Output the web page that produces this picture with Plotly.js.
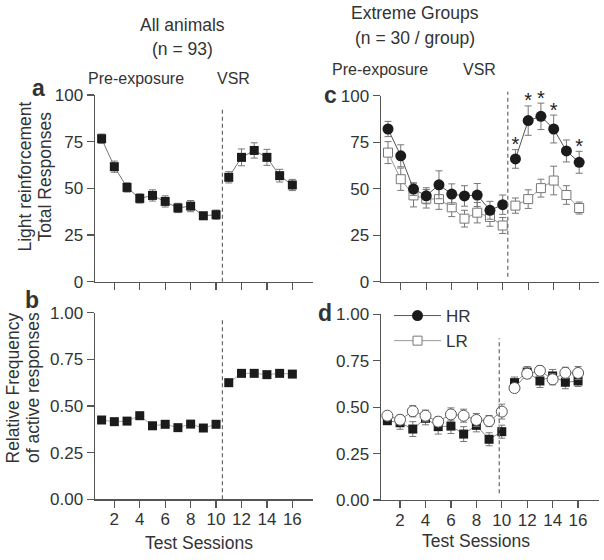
<!DOCTYPE html>
<html>
<head>
<meta charset="utf-8">
<script src="https://cdn.plot.ly/plotly-3.0.1.min.js"></script>
<style>html,body{margin:0;padding:0;background:#fff;}#chart{width:604px;height:560px;}</style>
</head>
<body>
<div id="chart"></div>
<script>
// ---------- data ----------
const sessions = [1,2,3,4,5,6,7,8,9,10,11,12,13,14,15,16];
const xTicks = [2,4,6,8,10,12,14,16];
const yTicksCount = [0,25,50,75,100];
const yTicksFreq = [0,0.25,0.5,0.75,1];

// Panel a: all animals, total responses
const aTotal = [76.6,61.6,50.5,44.6,46.2,43.0,39.5,40.5,35.3,35.9,55.9,66.6,70.3,66.6,56.8,51.8];
const aTotalErr = [2.5,3,2.5,2.5,3,3,2.5,3,2,2.5,3,4.5,4.1,4.3,3.4,3];

// Panel b: all animals, relative frequency of active responses
const bFreq = [0.425,0.416,0.419,0.448,0.394,0.402,0.384,0.403,0.382,0.402,0.625,0.675,0.675,0.668,0.675,0.671];

// Panel c: extreme groups, total responses
const cHR = [82.1,67.7,49.8,46.2,52.1,47.1,46.1,46.6,38.4,41.4,66.0,86.6,88.9,82.1,70.3,64.2];
const cHRerr = [4.1,5.9,3.4,4.3,7.5,5.5,5.5,6.2,4.8,5.2,5.0,7.9,7.1,7.5,5.9,5.9];
const cLR = [69.4,55.1,46.4,44.6,44.4,40.0,33.9,37.1,34.8,30.2,40.9,44.4,50.3,54.4,46.6,39.6];
const cLRerr = [5.9,6.0,6.2,5.0,5.5,5.0,4.5,5.5,5.0,4.3,4.1,5.0,4.8,7.7,5.0,3.2];
const cSig = [0,0,0,0,0,0,0,0,0,0,1,1,1,1,0,1];

// Panel d: extreme groups, relative frequency
const dHR = [0.427,0.416,0.382,0.440,0.395,0.398,0.355,0.402,0.327,0.368,0.632,0.689,0.641,0.668,0.634,0.641];
const dHRerr = [0.02,0.035,0.04,0.035,0.04,0.04,0.04,0.035,0.035,0.035,0.03,0.03,0.035,0.035,0.035,0.03];
const dLR = [0.454,0.432,0.478,0.454,0.422,0.461,0.454,0.431,0.425,0.476,0.603,0.680,0.696,0.650,0.685,0.684];
const dLRerr = [0.02,0.025,0.03,0.03,0.025,0.035,0.035,0.035,0.03,0.04,0.02,0.025,0.025,0.03,0.03,0.035];

const groupNames = ['HR','LR'];

// ---------- helpers ----------
const W = 604, H = 560;
const px = v => v / W;
const py = v => 1 - v / H;
const preIdx = [0,10], vsrIdx = [10,16];
const FONT = 'Liberation Sans, Arial, sans-serif';
const TXT = '#333';

function seg(arr, r){ return arr ? arr.slice(r[0], r[1]) : undefined; }

function series(xa, ya, y, err, marker, lineColor, opts){
  const out = [];
  [preIdx, vsrIdx].forEach((r, k) => {
    const t = {
      type:'scatter', mode:'lines+markers',
      x: seg(sessions, r), y: seg(y, r),
      xaxis: xa, yaxis: ya,
      line:{color: lineColor, width:1},
      marker: marker,
      showlegend: false, hoverinfo:'skip', cliponaxis:false
    };
    if (err) t.error_y = {type:'data', array: seg(err, r), visible:true, color:'#777', thickness:1, width:3.5};
    if (opts && opts.name) t.legendgroup = opts.name;
    if (opts && k === 0 && opts.name){ t.name = opts.name; t.showlegend = true; t.legendrank = opts.rank; }
    out.push(t);
  });
  return out;
}

const filledSq = {symbol:'square', size:9, color:'#1b1b1b', line:{color:'#1b1b1b', width:0}};
const openSq = {symbol:'square', size:9, color:'#fff', line:{color:'#777', width:1}};
const filledCi = {symbol:'circle', size:11, color:'#1b1b1b', line:{color:'#1b1b1b', width:0}};
const openCi = {symbol:'circle', size:11, color:'#fff', line:{color:'#555', width:1}};

let data = [];
data = data.concat(series('x','y', aTotal, aTotalErr, filledSq, '#777'));
data = data.concat(series('x2','y2', bFreq, null, filledSq, '#aaa'));
data = data.concat(series('x3','y3', cLR, cLRerr, openSq, '#999', {name:groupNames[1], rank:2}));
data = data.concat(series('x3','y3', cHR, cHRerr, filledCi, '#555', {name:groupNames[0], rank:1}));
data = data.concat(series('x4','y4', dHR, dHRerr, filledSq, '#888'));
data = data.concat(series('x4','y4', dLR, dLRerr, openCi, '#888'));

// significance asterisks (panel c), just above each HR error bar
const starX = [], starY = [];
sessions.forEach((s,i) => { if (cSig[i]) { starX.push(s); starY.push(cHR[i] + cHRerr[i] + 1.9); } });
data.push({type:'scatter', mode:'text', x: starX, y: starY, text: starX.map(()=>'*'),
  textposition:'middle center', textfont:{family:FONT, size:20, color:'#222'},
  xaxis:'x3', yaxis:'y3', showlegend:false, hoverinfo:'skip', cliponaxis:false});

// ---------- axes ----------
function xAxis(domain, range, anchor, labels){
  return {domain, range, anchor, tickvals: xTicks, ticks:'outside', ticklen:7, tickwidth:1.2,
    tickcolor:'#555', showline:true, linecolor:'#555', linewidth:1.4, showgrid:false, zeroline:false,
    showticklabels: labels, ticklabelstandoff:-3, tickfont:{family:FONT, size:17, color:TXT}, fixedrange:true};
}
function yAxis(domain, range, anchor, vals, fmt){
  return {domain, range, anchor, tickvals: vals, tickformat: fmt, ticks:'outside', ticklen:7, tickwidth:1.2,
    tickcolor:'#555', showline:true, linecolor:'#555', linewidth:1.4, showgrid:false, zeroline:false,
    tickfont:{family:FONT, size:17, color:TXT}, fixedrange:true};
}

const phaseA = 10.5, phaseC = 10.4, phaseD = 9.8;
function divider(xref, xv, y0px, y1px){
  return {type:'line', xref, yref:'paper', x0:xv, x1:xv, y0:py(y0px), y1:py(y1px),
    line:{color:'#666', width:1.2, dash:'4px,3px'}};
}

function ann(text, xpx, ypx, size, opts){
  return Object.assign({text, xref:'paper', yref:'paper', x:px(xpx), y:py(ypx), xanchor:'center', yanchor:'middle',
    showarrow:false, font:{family:FONT, size, color:TXT}}, opts || {});
}

const layout = {
  width: W, height: H,
  margin:{l:0, r:0, t:0, b:0},
  paper_bgcolor:'#fff', plot_bgcolor:'#fff',
  font:{family:FONT, color:TXT},
  showlegend:true,
  legend:{x:px(389), y:py(298), xanchor:'left', yanchor:'top', bgcolor:'rgba(0,0,0,0)',
    font:{family:FONT, size:17, color:TXT}, itemwidth:47, tracegroupgap:0, traceorder:'normal'},
  xaxis: xAxis([px(95), px(312.7)], [0.48, 17.6], 'y', false),
  yaxis: yAxis([py(281.7), py(95)], [0, 100], 'x', yTicksCount, 'd'),
  xaxis2: xAxis([px(95), px(312.7)], [0.48, 17.6], 'y2', true),
  yaxis2: yAxis([py(499.3), py(312.7)], [0, 1], 'x2', yTicksFreq, '.2f'),
  xaxis3: xAxis([px(381), px(599.3)], [0.45, 17.58], 'y3', false),
  yaxis3: yAxis([py(281.7), py(95.7)], [0, 100], 'x3', yTicksCount, 'd'),
  xaxis4: xAxis([px(381), px(599.3)], [0.5, 17.67], 'y4', true),
  yaxis4: yAxis([py(500), py(314.3)], [0, 1], 'x4', yTicksFreq, '.2f'),
  shapes: [
    divider('x', phaseA, 281.7, 106.7),
    divider('x2', phaseA, 499.3, 320),
    divider('x3', phaseC, 276.7, 91.7),
    divider('x4', phaseD, 493.3, 338.3)
  ],
  annotations: [
    ann('All animals', 182, 25, 17.5),
    ann('(n = 93)', 182, 49, 17.5),
    ann('Extreme Groups', 415, 13, 17.5),
    ann('(n = 30 / group)', 414.5, 38, 17.5),
    ann('Pre-exposure', 135.8, 79, 16),
    ann('VSR', 233.5, 79, 16),
    ann('Pre-exposure', 380, 69, 16),
    ann('VSR', 479, 69, 16),
    ann('<b>a</b>', 38, 88, 23),
    ann('<b>b</b>', 32, 300, 23),
    ann('<b>c</b>', 330, 95, 23),
    ann('<b>d</b>', 325, 313, 23),
    ann('Light reinforcement', 24.5, 177, 17.5, {textangle:-90}),
    ann('Total Responses', 44.5, 177, 17.5, {textangle:-90}),
    ann('Relative Frequency', 12.5, 388, 17.5, {textangle:-90}),
    ann('of active responses', 33, 388, 17.5, {textangle:-90}),
    ann('Test Sessions', 199, 543, 17.5),
    ann('Test Sessions', 475.5, 541, 17.5)
  ]
};

Plotly.newPlot('chart', data, layout, {staticPlot:true, displayModeBar:false});
</script>
</body>
</html>
